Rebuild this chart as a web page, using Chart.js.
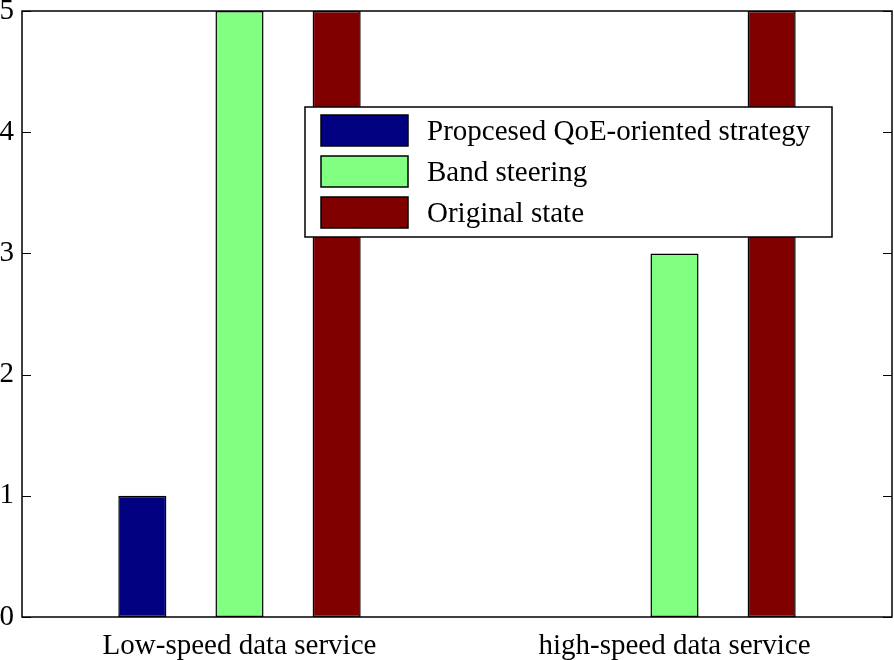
<!DOCTYPE html>
<html>
<head>
<meta charset="utf-8">
<script src="https://cdn.jsdelivr.net/npm/chart.js@4/dist/chart.umd.min.js"></script>
<style>
    html, body { margin: 0; padding: 0; background: #fff; }
    #wrap { width: 894px; height: 660px; position: relative; }
</style>
</head>
<body>
<div id="wrap"><canvas id="chart"></canvas></div>
<script>
const categories = ['Low-speed data service', 'high-speed data service'];
const seriesNames = ['Propcesed QoE-oriented strategy', 'Band steering', 'Original state'];
const proposedValues = [1, 0];
const bandSteeringValues = [5, 3];
const originalValues = [5, 5];
const yTicks = [0, 1, 2, 3, 4, 5];

const colors = ['#000080', '#80ff80', '#800000'];
const FONT = '"Liberation Serif", "Times New Roman", serif';

// matlab-style box around the axes with inward ticks
const boxPlugin = {
    id: 'box',
    afterDatasetsDraw(chart) {
        const { ctx, chartArea: a, scales } = chart;
        ctx.save();
        ctx.strokeStyle = '#000';
        ctx.lineWidth = 1.5;
        ctx.strokeRect(a.left, a.top, a.right - a.left, a.bottom - a.top);
        ctx.lineWidth = 1;
        yTicks.forEach(v => {
            const y = Math.round(scales.y.getPixelForValue(v)) + 0.5;
            ctx.beginPath();
            ctx.moveTo(a.left, y); ctx.lineTo(a.left + 9, y);
            ctx.moveTo(a.right, y); ctx.lineTo(a.right - 9, y);
            ctx.stroke();
        });
        ctx.restore();
    },
    afterDraw(chart) {
        // legend box
        const { ctx } = chart;
        const lx = 305, ly = 107, lw = 527, lh = 130;
        ctx.save();
        ctx.fillStyle = '#fff';
        ctx.fillRect(lx, ly, lw, lh);
        ctx.strokeStyle = '#000';
        ctx.lineWidth = 1.5;
        ctx.strokeRect(lx, ly, lw, lh);
        ctx.font = '29px ' + FONT;
        ctx.textBaseline = 'middle';
        chart.data.datasets.forEach((ds, i) => {
            const y = 115 + i * 41;
            ctx.fillStyle = ds.backgroundColor;
            ctx.fillRect(321, y, 87, 31);
            ctx.lineWidth = 1.5;
            ctx.strokeRect(321, y, 87, 31);
            ctx.fillStyle = '#000';
            ctx.fillText(ds.label, 427, y + 17);
        });
        ctx.restore();
    }
};

new Chart(document.getElementById('chart'), {
    type: 'bar',
    data: {
        labels: categories,
        datasets: [
            { label: seriesNames[0], data: proposedValues, backgroundColor: colors[0] },
            { label: seriesNames[1], data: bandSteeringValues, backgroundColor: colors[1] },
            { label: seriesNames[2], data: originalValues, backgroundColor: colors[2] }
        ]
    },
    options: {
        responsive: true,
        maintainAspectRatio: false,
        animation: false,
        devicePixelRatio: 1,
        layout: { padding: { top: 11, right: 2, left: 0, bottom: 0 } },
        datasets: {
            bar: {
                categoryPercentage: 0.67,
                barPercentage: 0.495,
                borderColor: '#000',
                borderWidth: 1.5,
                borderSkipped: false
            }
        },
        plugins: {
            legend: { display: false },
            tooltip: { enabled: false }
        },
        scales: {
            x: {
                grid: { display: false, drawTicks: false },
                border: { display: false },
                ticks: { color: '#000', font: { family: FONT, size: 29 }, padding: 12 },
                afterFit(scale) {
                    scale.height = 43;
                    scale.paddingLeft = 0;
                    scale.paddingRight = 0;
                }
            },
            y: {
                min: 0,
                max: 5,
                grid: { display: false, drawTicks: false },
                border: { display: false },
                ticks: {
                    stepSize: 1,
                    color: '#000',
                    font: { family: FONT, size: 29 },
                    padding: 8
                },
                afterFit(scale) {
                    scale.width = 22;
                    scale.paddingTop = 0;
                    scale.paddingBottom = 0;
                }
            }
        }
    },
    plugins: [boxPlugin]
});
</script>
</body>
</html>
